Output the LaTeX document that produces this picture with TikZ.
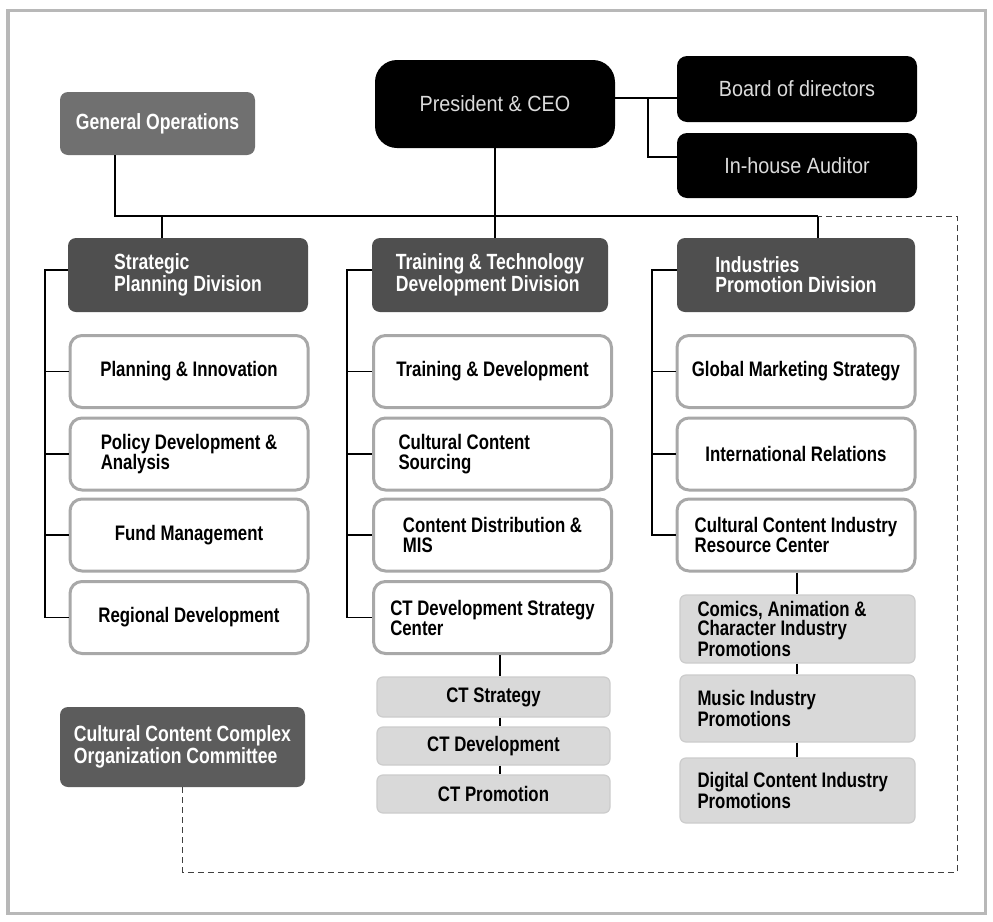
\documentclass[tikz,border=0pt]{standalone}
\usepackage{fontspec}
\newfontfamily\boxfont{Liberation Sans}[FakeStretch=0.8]
\newfontfamily\ceofont{Liberation Sans}[FakeStretch=0.9]
\usetikzlibrary{calc}
\definecolor{frameGray}{gray}{0.72}
\definecolor{unitEdge}{gray}{0.66}
\definecolor{subFill}{gray}{0.85}
\definecolor{goFill}{gray}{0.44}
\definecolor{divFill}{gray}{0.31}
\definecolor{comFill}{gray}{0.36}
\definecolor{topText}{gray}{0.86}
\tikzset{
  link/.style={draw=black, line width=0.9pt},
  dashlink/.style={draw=black!75, line width=0.5pt, dash pattern=on 3pt off 2pt},
  topbox/.style={fill=black, rounded corners=5pt, text=topText, inner sep=0pt,
    font=\ceofont\fontsize{11pt}{13pt}\selectfont, minimum width=120pt},
  darkbox/.style={rounded corners=4pt, text=white, align=left, inner sep=0pt,
    font=\boxfont\bfseries\fontsize{11pt}{10pt}\selectfont},
  unitbox/.style={draw=unitEdge, line width=1.5pt, fill=white, rounded corners=6pt,
    align=center, inner sep=0pt, minimum width=119pt, minimum height=36pt,
    font=\boxfont\bfseries\fontsize{10.5pt}{10pt}\selectfont},
  subbox/.style={fill=subFill, draw=black!20, line width=0.6pt, rounded corners=3pt,
    inner sep=0pt, font=\boxfont\bfseries\fontsize{10.5pt}{9.6pt}\selectfont}
}
\begin{document}
\begin{tikzpicture}[x=0.5pt,y=-0.5pt]
  % page and outer frame
  \fill[white] (0,0) rectangle (993,922);
  \useasboundingbox (0,0) rectangle (993,922);
  \draw[frameGray, line width=1.5pt] (8,10) rectangle (985,913);

  % top management
  \node[topbox, minimum height=44pt, rounded corners=11pt] (ceo) at (495,104) {President \& CEO};
  \node[topbox, minimum height=33pt] (bod) at (797,89) {Board of directors};
  \node[topbox, minimum height=32.5pt] (aud) at (797,165.5) {In-house Auditor};
  \node[darkbox, fill=goFill, minimum width=97.5pt, minimum height=31.5pt] (go) at (157.5,123.5) {General Operations};

  % divisions
  \node[darkbox, fill=divFill, minimum width=120pt, minimum height=37pt] (spd) at (188,275) {Strategic\\Planning Division};
  \node[darkbox, fill=divFill, minimum width=118pt, minimum height=37pt] (ttd) at (490,275) {Training \& Technology\\Development Division};
  \node[darkbox, fill=divFill, minimum width=119pt, minimum height=37pt] (ipd) at (796,275) {Industries\\Promotion Division};
  \node[darkbox, fill=comFill, minimum width=122.5pt, minimum height=40pt] (comm) at (182.5,747) {Cultural Content Complex\\Organization Committee};

  % units of the strategic planning division
  \node[unitbox] (p1) at (189,371.5) {Planning \& Innovation};
  \node[unitbox, align=left] (p2) at (189,454) {Policy Development \&\\Analysis};
  \node[unitbox] (p3) at (189,535) {Fund Management};
  \node[unitbox] (p4) at (189,617.5) {Regional Development};

  % units of the training and technology division
  \node[unitbox] (m1) at (492.5,371.5) {Training \& Development};
  \node[unitbox, align=flush left, text width=94pt] (m2) at (492.5,454) {Cultural Content\\Sourcing};
  \node[unitbox, align=left] (m3) at (492.5,535) {Content Distribution \&\\MIS};
  \node[unitbox, align=left] (m4) at (492.5,617.5) {CT Development Strategy\\Center};

  % units of the industries promotion division
  \node[unitbox] (r1) at (796,371.5) {Global Marketing Strategy};
  \node[unitbox] (r2) at (796,454) {International Relations};
  \node[unitbox, align=left] (r3) at (796,535) {Cultural Content Industry\\Resource Center};

  % teams below the CT centre
  \node[subbox, minimum width=116.5pt, minimum height=20pt] (ct1) at (493.5,697) {CT Strategy};
  \node[subbox, minimum width=116.5pt, minimum height=19pt] (ct2) at (493.5,746) {CT Development};
  \node[subbox, minimum width=116.5pt, minimum height=19pt] (ct3) at (493.5,794) {CT Promotion};

  % teams below the resource centre
  \node[subbox, align=flush left, text width=100pt, minimum width=117.5pt, minimum height=34pt] (s1) at (797.5,629) {Comics, Animation \&\\Character Industry\\Promotions};
  \node[subbox, align=flush left, text width=100pt, minimum width=117.5pt, minimum height=33.5pt] (s2) at (797.5,708.5) {Music Industry\\Promotions};
  \node[subbox, align=flush left, text width=100pt, minimum width=117.5pt, minimum height=32.5pt] (s3) at (797.5,790.5) {Digital Content Industry\\Promotions};

  % junction points
  \coordinate (j1) at (648,98);
  \coordinate (j2) at (648,157);
  \coordinate (busL) at (115,216);
  \coordinate (busR) at (818,216);
  \coordinate (spdDrop) at (162,216);
  \coordinate (railL) at (45,270);
  \coordinate (railM) at (347,270);
  \coordinate (railR) at (652,270);
  \coordinate (ctDrop) at (500,0);
  \coordinate (sDrop) at (797,0);
  \coordinate (dashCorner) at (957,872);

  % board and auditor
  \draw[link] (ceo.east |- j1) -- (bod.west |- j1);
  \draw[link] (j1) -- (j2) -- (aud.west |- j2);

  % main bus
  \draw[link] (go.south -| busL) -- (busL) -- (busR);
  \draw[link] (spdDrop) -- (spd.north -| spdDrop);
  \draw[link] (ceo.south) -- (ttd.north -| ceo.south);
  \draw[link] (busR) -- (ipd.north -| busR);

  % division rails
  \draw[link] (spd.west |- railL) -- (railL) -- (railL |- p4.west) -- (p4.west);
  \foreach \u in {p1,p2,p3} \draw[link] (railL |- \u.west) -- (\u.west);
  \draw[link] (ttd.west |- railM) -- (railM) -- (railM |- m4.west) -- (m4.west);
  \foreach \u in {m1,m2,m3} \draw[link] (railM |- \u.west) -- (\u.west);
  \draw[link] (ipd.west |- railR) -- (railR) -- (railR |- r3.west) -- (r3.west);
  \foreach \u in {r1,r2} \draw[link] (railR |- \u.west) -- (\u.west);

  % team chains
  \draw[link, line width=0.7pt] (m4.south -| ctDrop) -- (ct1.north -| ctDrop);
  \draw[link, line width=0.7pt] (ct1.south -| ctDrop) -- (ct2.north -| ctDrop);
  \draw[link, line width=0.7pt] (ct2.south -| ctDrop) -- (ct3.north -| ctDrop);
  \draw[link, line width=0.7pt] (r3.south -| sDrop) -- (s1.north -| sDrop);
  \draw[link, line width=0.7pt] (s1.south -| sDrop) -- (s2.north -| sDrop);
  \draw[link, line width=0.7pt] (s2.south -| sDrop) -- (s3.north -| sDrop);

  % committee reports to the top through a dashed line
  \draw[dashlink] (comm.south) |- (dashCorner) |- (busR);
\end{tikzpicture}
\end{document}
